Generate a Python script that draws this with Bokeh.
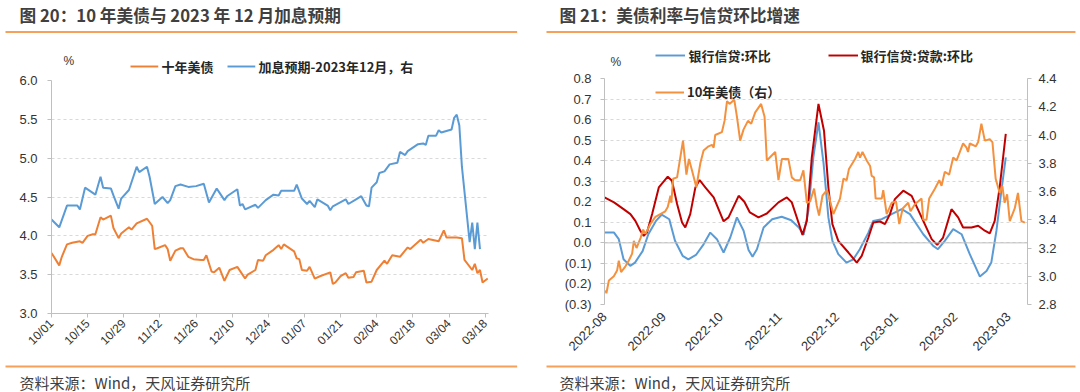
import math
import pandas as pd
from bokeh.plotting import figure
from bokeh.layouts import row, column
from bokeh.models import (Range1d, LinearAxis, FixedTicker, DatetimeTickFormatter,
                          Legend, LegendItem, Label, Span, CustomJSTickFormatter,
                          NumeralTickFormatter)
from bokeh.embed import file_html
from bokeh.resources import INLINE

# ---------------- data: left chart (days since 2022-10-01) ----------------
left_base = "2022-10-01"
us10y_days = [0, 3, 4, 6, 8, 11, 12, 14, 16, 17, 19, 20, 23, 24, 26, 27, 30, 31, 33, 37,
              39, 40, 41, 44, 45, 46, 48, 50, 51, 53, 55, 58, 59, 60, 62, 63, 65, 67, 69, 72,
              74, 75, 76, 79, 80, 82, 83, 86, 88, 89, 90, 94, 95, 96, 97, 99, 100, 102, 104, 108,
              109, 110, 112, 114, 115, 117, 118, 121, 122, 124, 126, 129, 130, 132, 135, 138, 139, 143, 144, 146,
              150, 152, 153, 157, 159, 160, 163, 164, 165, 166, 167, 169]
us10y_vals = [3.78, 3.62, 3.73, 3.89, 3.91, 3.93, 3.91, 4.00, 4.02, 4.02, 4.24, 4.21, 4.26, 4.10, 3.97, 4.03, 4.11, 4.08, 4.16, 4.22,
              4.13, 3.83, 3.84, 3.88, 3.83, 3.68, 3.81, 3.84, 3.84, 3.73, 3.70, 3.69, 3.69, 3.75, 3.54, 3.53, 3.59, 3.42, 3.56, 3.60,
              3.50, 3.45, 3.50, 3.56, 3.69, 3.68, 3.75, 3.82, 3.88, 3.83, 3.89, 3.80, 3.71, 3.70, 3.56, 3.55, 3.60, 3.45, 3.48, 3.53,
              3.38, 3.40, 3.48, 3.52, 3.46, 3.47, 3.53, 3.55, 3.40, 3.41, 3.56, 3.68, 3.64, 3.75, 3.73, 3.85, 3.83, 3.95, 3.91, 3.96,
              3.93, 4.07, 3.98, 3.98, 3.97, 3.69, 3.56, 3.64, 3.52, 3.56, 3.40, 3.45]
hike_days = [0, 3, 6, 10, 11, 13, 17, 19, 20, 23, 24, 26, 27, 30, 31, 33, 34, 37, 38, 40,
             43, 45, 46, 48, 50, 53, 56, 59, 61, 64, 65, 67, 68, 72, 73, 74, 75, 79, 80, 83,
             86, 88, 89, 94, 95, 97, 99, 100, 102, 103, 107, 108, 109, 114, 115, 118, 120, 122, 123, 124,
             126, 127, 129, 131, 134, 135, 137, 138, 142, 144, 145, 146, 149, 150, 151, 155, 156, 157, 158, 159,
             162, 163, 164, 165, 166]
hike_vals = [4.21, 4.11, 4.39, 4.39, 4.34, 4.62, 4.53, 4.76, 4.62, 4.61, 4.52, 4.35, 4.48, 4.59, 4.69, 4.89, 4.82, 4.89, 4.76, 4.41,
             4.50, 4.42, 4.46, 4.64, 4.66, 4.63, 4.64, 4.67, 4.43, 4.61, 4.56, 4.46, 4.51, 4.60, 4.39, 4.41, 4.34, 4.40, 4.36, 4.46,
             4.53, 4.52, 4.58, 4.58, 4.66, 4.48, 4.41, 4.45, 4.37, 4.47, 4.39, 4.33, 4.38, 4.47, 4.41, 4.47, 4.51, 4.39, 4.38, 4.62,
             4.69, 4.81, 4.83, 4.92, 4.94, 5.08, 5.04, 5.09, 5.18, 5.19, 5.17, 5.29, 5.29, 5.36, 5.33, 5.37, 5.52, 5.56, 5.42, 4.89,
             3.92, 4.17, 3.83, 4.17, 3.83]
left_ticks = ["2022-10-01", "2022-10-15", "2022-10-29", "2022-11-12", "2022-11-26", "2022-12-10", "2022-12-24",
              "2023-01-07", "2023-01-21", "2023-02-04", "2023-02-18", "2023-03-04", "2023-03-18"]
left_y_ticks = [3.0, 3.5, 4.0, 4.5, 5.0, 5.5, 6.0]

# ---------------- data: right chart (days since 2022-08-01) ----------------
right_base = "2022-08-01"
credit_days = [0, 5, 7.5, 10, 13.5, 16, 20, 23, 27, 30, 34, 37, 41, 44, 48, 52, 55.5, 59, 62.5, 66,
               69.5, 73, 75.6, 77.7, 80, 83.5, 88, 93, 98, 102, 104.5, 107, 109.6, 112.3, 115, 117.5, 119.6, 122.7, 127, 130.6,
               134, 138.5, 141, 145.5, 150.7, 156, 160.3, 167.3, 172.5, 175, 178.6, 183, 187.4, 191.7, 197, 200.5, 203, 205.7, 208.3, 210.6]
credit_vals = [0.05, 0.05, 0.018, -0.08, -0.112, -0.096, -0.04, 0.042, 0.107, 0.137, 0.115, 0.01, -0.063, -0.08, -0.059, -0.007, 0.05, 0.018, -0.047, 0.026,
               0.124, 0.059, -0.035, -0.067, -0.031, 0.075, 0.115, 0.127, 0.11, 0.075, 0.039, 0.156, 0.416, 0.587, 0.384, 0.124, 0.01, -0.055, -0.096, -0.08,
               -0.031, 0.05, 0.107, 0.115, 0.14, 0.164, 0.14, 0.042, -0.015, -0.031, 0.01, 0.067, 0.042, -0.055, -0.164, -0.137, -0.096, 0.059, 0.254, 0.416]
loan_days = [0, 5, 10, 13.6, 16.2, 18.8, 20.6, 22.3, 25, 28.5, 33.2, 35.4, 38.1, 40.7, 42.4, 45, 47.7, 49.9, 52.9, 57.3,
             62.5, 65.1, 70.4, 73.4, 76.3, 80.8, 85.2, 91.3, 95.7, 98.3, 101.8, 103.9, 106.2, 108.8, 112.3, 115.2, 117.5, 119.6, 122.7, 128,
             132.4, 135, 138.5, 141.1, 144.6, 147.2, 149.8, 152.4, 156.8, 161.2, 167.3, 171.7, 174.6, 177.7, 182.1, 185.6, 188.2, 192.6, 196.1, 199.6,
             202.2, 204.8, 207.4, 210.6]
loan_vals = [0.221, 0.197, 0.164, 0.14, 0.107, 0.059, 0.034, 0.05, 0.14, 0.27, 0.322, 0.302, 0.189, 0.099, 0.075, 0.14, 0.27, 0.306, 0.27, 0.221,
             0.105, 0.124, 0.229, 0.2, 0.148, 0.124, 0.143, 0.197, 0.221, 0.197, 0.099, 0.039, 0.107, 0.416, 0.676, 0.546, 0.27, 0.091, 0.01, -0.047,
             -0.096, -0.063, 0.026, 0.099, 0.104, 0.091, 0.14, 0.213, 0.254, 0.229, 0.107, 0.018, -0.01, 0.026, 0.164, 0.124, 0.075, 0.075, 0.083, 0.059,
             0.046, 0.107, 0.27, 0.53]
ust_days = [0.5, 1, 2.3, 4.9, 6.6, 7.5, 8.7, 11, 12.7, 14.5, 15.4, 16.8, 18.9, 20.3, 21.5, 24.1, 26.7, 29.3, 31.9, 33.2,
            34.6, 35.1, 36, 38.1, 41.2, 43, 44.3, 45.9, 48.2, 50.3, 52, 54.6, 56.4, 57.3, 58.1, 61.6, 63, 64.3, 65.6, 68.1,
            69.5, 71.2, 73, 75.3, 77, 79.1, 82.2, 84, 85.2, 89.6, 91.3, 93.1, 96.5, 98.3, 100, 102.7, 104.4, 106.2, 107.9, 110,
            111.4, 112.6, 114.4, 116.7, 117.9, 120.1, 123.6, 125.4, 127.1, 128.3, 131.5, 133.2, 134.1, 135.4, 137.6, 139.4, 140.2, 141.5, 142.3, 145.5,
            146.3, 148.1, 150.7, 153, 154.7, 156.5, 159.4, 160.6, 162.9, 166.4, 167.3, 169, 170.4, 173.4, 175.7, 176.9, 178.6, 180.9, 183, 184.8,
            188.2, 190, 190.8, 191.7, 194.9, 196.1, 197.8, 199.6, 202.2, 203.6, 205.3, 207.4, 208.8, 210, 211.3, 212.7, 215.3, 217, 218.8, 220.6]
ust_vals = [2.90, 2.88, 2.97, 3.00, 3.04, 3.11, 3.03, 3.07, 3.11, 3.16, 3.25, 3.20, 3.27, 3.33, 3.30, 3.37, 3.42, 3.44, 3.46, 3.49,
            3.57, 3.52, 3.69, 3.70, 3.96, 3.72, 3.83, 3.75, 3.63, 3.80, 3.89, 3.92, 3.93, 3.91, 4.00, 4.02, 4.10, 4.24, 4.22, 4.25,
            4.13, 3.96, 4.04, 4.10, 4.08, 4.16, 4.22, 4.13, 3.82, 3.88, 3.68, 3.83, 3.83, 3.70, 3.68, 3.68, 3.75, 3.52, 3.53, 3.62,
            3.50, 3.43, 3.57, 3.61, 3.56, 3.44, 3.55, 3.69, 3.68, 3.76, 3.83, 3.88, 3.84, 3.88, 3.82, 3.78, 3.71, 3.70, 3.55, 3.55,
            3.61, 3.44, 3.52, 3.53, 3.37, 3.48, 3.52, 3.46, 3.51, 3.55, 3.40, 3.40, 3.55, 3.62, 3.68, 3.64, 3.74, 3.72, 3.84, 3.82,
            3.94, 3.91, 3.88, 3.94, 3.92, 3.95, 4.08, 3.96, 3.97, 3.95, 3.69, 3.59, 3.64, 3.52, 3.58, 3.39, 3.48, 3.59, 3.39, 3.38]
right_ticks = ["2022-08-01", "2022-09-01", "2022-10-01", "2022-11-01", "2022-12-01", "2023-01-01", "2023-02-01", "2023-03-01"]
right_y_ticks = [-0.3, -0.2, -0.1, 0.0, 0.1, 0.2, 0.3, 0.4, 0.5, 0.6, 0.7, 0.8]
right_y2_ticks = [2.8, 3.0, 3.2, 3.4, 3.6, 3.8, 4.0, 4.2, 4.4]

# ---------------- styling ----------------
W, H = 540, 392
CJK = "Noto Sans CJK SC"
NUM = "Liberation Sans"
TXT = "#404040"
RULE = "#F7A05A"
ORANGE_L = "#EE8035"
ORANGE_R = "#F4913F"
BLUE = "#5B9BD5"
RED = "#C00000"
GRID = "#D9D9D9"
AXIS = "#BFBFBF"
EMSP = "\u2003"


def to_dates(base, days):
    return pd.Timestamp(base) + pd.to_timedelta(days, unit="D")


def ms(d):
    return pd.Timestamp(d).value / 1e6


def txt(p, side, x, y, text, size, bold=False, color=TXT, font=CJK):
    p.add_layout(Label(x=x, y=y, x_units="canvas", y_units="canvas", text=text,
                       text_font=font, text_font_size=f"{size}px",
                       text_font_style="bold" if bold else "normal",
                       text_color=color, text_align="left", text_baseline="middle"), side)


def bar(p, side, x0, x1, y, color, thick=2.0):
    # a thin filled strip: blank (em-space) label with a solid background
    fs = thick / 1.15
    n = max(1, round((x1 - x0) / fs))
    p.add_layout(Label(x=x0, y=y, x_units="canvas", y_units="canvas", text=EMSP * n,
                       text_font=NUM, text_font_size=f"{fs:.2f}px", text_color=color,
                       text_align="left", text_baseline="middle",
                       background_fill_color=color, background_fill_alpha=1.0), side)


def base_fig(bl, br, bt, bb, x_range, y_range):
    p = figure(width=W, height=H, x_axis_type="datetime", x_range=x_range, y_range=y_range,
               output_backend="svg", toolbar_location=None, title_location=None,
               min_border_left=bl, min_border_right=br, min_border_top=bt, min_border_bottom=bb)
    p.outline_line_color = None
    p.background_fill_color = "white"
    p.border_fill_color = "white"
    p.xgrid.visible = False
    p.ygrid.grid_line_color = GRID
    p.ygrid.grid_line_dash = "3 3"
    for ax in (p.xaxis[0], p.yaxis[0]):
        ax.axis_line_color = AXIS
        ax.major_tick_line_color = AXIS
        ax.minor_tick_line_color = None
        ax.major_tick_in = 0
        ax.major_tick_out = 4
        ax.major_label_text_font = NUM
        ax.major_label_text_color = "#333333"
    return p


# ---------------- left chart ----------------
p1 = base_fig(51, 52, 80, 79,
              Range1d(ms(left_base), ms(to_dates(left_base, [169.3])[0])), Range1d(3.0, 6.0))
p1.yaxis.ticker = FixedTicker(ticks=left_y_ticks)
p1.yaxis.formatter = NumeralTickFormatter(format="0.0")
p1.yaxis.major_label_text_font_size = "13px"
p1.yaxis.major_label_standoff = 10
p1.xaxis.ticker = FixedTicker(ticks=[ms(d) for d in left_ticks])
p1.xaxis.formatter = DatetimeTickFormatter(days="%m/%d", months="%m/%d", years="%m/%d")
p1.xaxis.major_label_orientation = math.pi / 4
p1.xaxis.major_label_text_font_size = "12px"
p1.xaxis.major_label_standoff = 4

p1.line(to_dates(left_base, us10y_days), us10y_vals, line_color=ORANGE_L, line_width=2)
p1.line(to_dates(left_base, hike_days), hike_vals, line_color=BLUE, line_width=2)

txt(p1, "above", 19, 14.5, "图 20：10 年美债与 2023 年 12 月加息预期", 16.7, bold=True)
bar(p1, "above", 130, 158, 66, ORANGE_L)
txt(p1, "above", 161, 66, "十年美债", 13, bold=True, color="#262626")
bar(p1, "above", 227, 255, 66, BLUE)
txt(p1, "above", 258, 66, "加息预期-2023年12月，右", 13, bold=True, color="#262626")
txt(p1, "left", 63, 60, "%", 12, color="#333333", font=NUM)
bar(p1, "below", 5, 518, 31.5, RULE)
bar(p1, "below", 5, 518, 366, RULE)
txt(p1, "below", 19, 382, "资料来源：Wind，天风证券研究所", 15)

# ---------------- right chart ----------------
p2 = base_fig(64, 53, 78, 88,
              Range1d(ms(right_base), ms(to_dates(right_base, [222.0])[0])), Range1d(-0.3, 0.8))
p2.extra_y_ranges = {"r": Range1d(2.8, 4.4)}
p2.yaxis.ticker = FixedTicker(ticks=right_y_ticks)
p2.yaxis.formatter = CustomJSTickFormatter(
    code="return tick < -1e-9 ? '(' + (-tick).toFixed(1) + ')' : Math.abs(tick).toFixed(1);")
p2.yaxis.major_label_text_font_size = "13px"
p2.yaxis.major_label_standoff = 9
p2.xaxis.ticker = FixedTicker(ticks=[ms(d) for d in right_ticks])
p2.xaxis.formatter = DatetimeTickFormatter(days="%Y-%m", months="%Y-%m", years="%Y-%m")
p2.xaxis.major_label_orientation = math.pi / 4
p2.xaxis.major_label_text_font_size = "13px"
p2.xaxis.axis_line_color = None
p2.xaxis.major_tick_line_color = None
p2.xaxis.major_label_standoff = 6

ax_r = LinearAxis(y_range_name="r", ticker=FixedTicker(ticks=right_y2_ticks),
                  formatter=NumeralTickFormatter(format="0.0"))
ax_r.axis_line_color = AXIS
ax_r.major_tick_line_color = AXIS
ax_r.minor_tick_line_color = None
ax_r.major_tick_in = 0
ax_r.major_tick_out = 4
ax_r.major_label_standoff = 7
ax_r.major_label_text_font = NUM
ax_r.major_label_text_font_size = "13px"
ax_r.major_label_text_color = "#333333"
p2.add_layout(ax_r, "right")

p2.add_layout(Span(location=0, dimension="width", line_color=AXIS, line_width=1))

p2.line(to_dates(right_base, credit_days), credit_vals, line_color=BLUE, line_width=2)
p2.line(to_dates(right_base, loan_days), loan_vals, line_color=RED, line_width=2)
r_ust = p2.line(to_dates(right_base, ust_days), ust_vals, line_color=ORANGE_R, line_width=2, y_range_name="r")

p2.add_layout(Legend(items=[LegendItem(label="10年美债（右）", renderers=[r_ust])], location=(51, 203),
                     orientation="horizontal", padding=0, margin=0, glyph_width=29, glyph_height=16,
                     label_standoff=3, label_text_font=CJK, label_text_font_size="13px",
                     label_text_font_style="bold", label_text_color="#262626",
                     border_line_alpha=0, background_fill_alpha=0))

txt(p2, "above", 19, 14.5, "图 21：美债利率与信贷环比增速", 16.7, bold=True)
bar(p2, "above", 115, 145, 55, BLUE)
txt(p2, "above", 148, 55, "银行信贷:环比", 13, bold=True, color="#262626")
bar(p2, "above", 288, 317, 55, RED)
txt(p2, "above", 320, 55, "银行信贷:贷款:环比", 13, bold=True, color="#262626")
txt(p2, "left", 70, 61, "%", 12, color="#333333", font=NUM)
bar(p2, "below", 6, 536, 31.5, RULE)
bar(p2, "below", 6, 536, 366, RULE)
txt(p2, "below", 19, 382, "资料来源：Wind，天风证券研究所", 15)

layout = row(column(p1), column(p2))
open("out.html", "w").write(file_html(layout, INLINE))
